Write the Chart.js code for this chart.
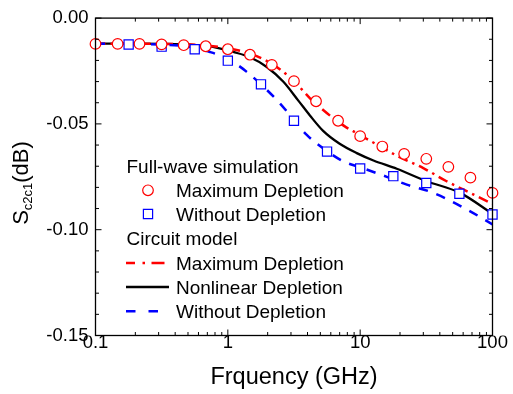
<!DOCTYPE html>
<html><head><meta charset="utf-8">
<script src="https://cdn.jsdelivr.net/npm/chart.js@4"></script>
<style>html,body{margin:0;padding:0;background:#fff}#wrap{width:513px;height:394px}</style>
</head><body><div id="wrap"><canvas id="c" width="513" height="394"></canvas></div>
<script>
// Full-wave simulation (markers)
const fwFreqMax = [0.1, 0.147, 0.215, 0.316, 0.464, 0.681, 1, 1.47, 2.15, 3.16, 4.64, 6.81, 10, 14.7, 21.5, 31.6, 46.4, 68.1, 100];
const fwMaxDepletion = [-0.0122, -0.0122, -0.0122, -0.0124, -0.0128, -0.0133, -0.0147, -0.0173, -0.0221, -0.0298, -0.0393, -0.0485, -0.0558, -0.0607, -0.0642, -0.0665, -0.0703, -0.0754, -0.0826];
const fwFreqWithout = [0.178, 0.316, 0.562, 1, 1.78, 3.16, 5.62, 10, 17.8, 31.6, 56.2, 100];
const fwWithoutDepletion = [-0.0125, -0.0135, -0.0147, -0.0201, -0.0313, -0.0485, -0.0631, -0.0711, -0.0747, -0.0779, -0.0830, -0.0928];
// Circuit model (lines)
const cmFreqMax = [0.1, 0.3, 0.6, 1.0, 1.47, 2.0, 2.6, 3.3, 4.18, 5.2, 6.27, 7.8, 9.43, 13.4, 18.9, 30, 45, 72, 100];
const cmMaxDepletion = [-0.0121, -0.0122, -0.0127, -0.0143, -0.0168, -0.0205, -0.0252, -0.0310, -0.0379, -0.0432, -0.0473, -0.0515, -0.0544, -0.0598, -0.0650, -0.0709, -0.0771, -0.0834, -0.0878];
const cmFreqNonlin = [0.1, 0.2, 0.4, 0.617, 0.8, 1.1, 1.47, 1.97, 2.63, 3.41, 4.17, 5.25, 7.0, 9.43, 12.6, 18.9, 31.9, 56.9, 100];
const cmNonlinear = [-0.0121, -0.0121, -0.0123, -0.0129, -0.0138, -0.0160, -0.0185, -0.0231, -0.0301, -0.0390, -0.0460, -0.0533, -0.0594, -0.0638, -0.0673, -0.0712, -0.0771, -0.0826, -0.0925];
const cmFreqWithout = [0.1, 0.3, 0.5, 0.733, 1.0, 1.39, 2.41, 3.95, 5.6, 7.47, 10, 15.9, 22.5, 35.7, 63.9, 100];
const cmWithout = [-0.0121, -0.0125, -0.0134, -0.0160, -0.0193, -0.0254, -0.0395, -0.0552, -0.0628, -0.0677, -0.0705, -0.0750, -0.0787, -0.0826, -0.0904, -0.0975];

const xTickValues = [0.1, 1, 10, 100];
const xTickLabels = ['0.1', '1', '10', '100'];
const yTickValues = [0, -0.05, -0.10, -0.15];
const yTickLabels = ['0.00', '-0.05', '-0.10', '-0.15'];
const xTitle = 'Frquency (GHz)';
const yTitleMain = 'S', yTitleSub = 'c2c1', yTitleUnit = '(dB)';
const legendGroup1 = 'Full-wave simulation';
const legendGroup2 = 'Circuit model';
const legendItems = ['Maximum Depletion', 'Without Depletion', 'Maximum Depletion', 'Nonlinear Depletion', 'Without Depletion'];

const FONT = '"Liberation Sans", Arial, sans-serif';
const RED = '#ff0000', BLUE = '#0000ff', BLACK = '#000000';
const zip = (xs, ys) => xs.map((x, i) => ({x, y: ys[i]}));

const decor = {
  id: 'decor',
  afterDatasetsDraw(chart) {
    const ctx = chart.ctx, a = chart.chartArea;
    const xs = chart.scales.x, ys = chart.scales.y;
    ctx.save();
    ctx.strokeStyle = '#000';
    ctx.lineWidth = 1.3;
    ctx.strokeRect(a.left, a.top, a.right - a.left, a.bottom - a.top);
    // x ticks (inward, bottom and top)
    ctx.lineWidth = 1;
    for (let d = -1; d <= 1; d++) {
      for (let m = 1; m <= 9; m++) {
        const v = m * Math.pow(10, d);
        const px = xs.getPixelForValue(v);
        const len = m === 1 ? 6 : 3.5;
        ctx.beginPath();
        ctx.moveTo(px, a.bottom); ctx.lineTo(px, a.bottom - len);
        ctx.moveTo(px, a.top); ctx.lineTo(px, a.top + len);
        ctx.stroke();
      }
    }
    // y ticks every 0.01
    for (let k = 0; k <= 15; k++) {
      const py = ys.getPixelForValue(-k / 100);
      const len = k % 5 === 0 ? 6 : 3.5;
      ctx.beginPath();
      ctx.moveTo(a.left, py); ctx.lineTo(a.left + len, py);
      ctx.moveTo(a.right, py); ctx.lineTo(a.right - len, py);
      ctx.stroke();
    }
    // x title
    ctx.fillStyle = '#000';
    ctx.font = '23.5px ' + FONT;
    ctx.textAlign = 'center';
    ctx.textBaseline = 'alphabetic';
    ctx.fillText(xTitle, (a.left + a.right) / 2, 383.5);
    // y title with subscript (rotated)
    ctx.save();
    ctx.translate(28, 183);
    ctx.rotate(-Math.PI / 2);
    ctx.textAlign = 'left';
    const fMain = '22px ' + FONT, fSub = '13px ' + FONT;
    ctx.font = fMain; const w1 = ctx.measureText(yTitleMain).width;
    const w3 = ctx.measureText(yTitleUnit).width;
    ctx.font = fSub; const w2 = ctx.measureText(yTitleSub).width;
    let x0 = -(w1 + w2 + w3) / 2;
    ctx.font = fMain; ctx.fillText(yTitleMain, x0, 0);
    ctx.font = fSub; ctx.fillText(yTitleSub, x0 + w1, 4);
    ctx.font = fMain; ctx.fillText(yTitleUnit, x0 + w1 + w2, 0);
    ctx.restore();
    // legend
    ctx.font = '19px ' + FONT;
    ctx.textAlign = 'left';
    const tx = 176, gx = 126.5, mx = 148, l0 = 126, l1 = 169;
    const rows = [173.3, 197, 220.7, 245.3, 269.7, 293.7, 318];
    ctx.fillText(legendGroup1, gx, rows[0]);
    ctx.fillText(legendItems[0], tx, rows[1]);
    ctx.fillText(legendItems[1], tx, rows[2]);
    ctx.fillText(legendGroup2, gx, rows[3]);
    ctx.fillText(legendItems[2], tx, rows[4]);
    ctx.fillText(legendItems[3], tx, rows[5]);
    ctx.fillText(legendItems[4], tx, rows[6]);
    const cy = r => r - 6.7;
    // markers
    ctx.lineWidth = 1.2;
    ctx.strokeStyle = RED; ctx.fillStyle = '#fff';
    ctx.beginPath(); ctx.arc(mx, cy(rows[1]), 5.3, 0, Math.PI * 2); ctx.fill(); ctx.stroke();
    ctx.strokeStyle = BLUE;
    ctx.beginPath(); ctx.rect(mx - 4.6, cy(rows[2]) - 4.6, 9.2, 9.2); ctx.fill(); ctx.stroke();
    // line samples
    ctx.lineWidth = 2.5;
    ctx.strokeStyle = RED; ctx.setLineDash([9, 7.5, 2.5, 6.5, 13, 20]);
    ctx.beginPath(); ctx.moveTo(l0, cy(rows[4])); ctx.lineTo(165, cy(rows[4])); ctx.stroke();
    ctx.strokeStyle = BLACK; ctx.setLineDash([]); ctx.lineWidth = 2.3;
    ctx.beginPath(); ctx.moveTo(l0, cy(rows[5])); ctx.lineTo(l1, cy(rows[5])); ctx.stroke();
    ctx.strokeStyle = BLUE; ctx.setLineDash([9.5, 13]); ctx.lineWidth = 2.5;
    ctx.beginPath(); ctx.moveTo(l0, cy(rows[6])); ctx.lineTo(l1, cy(rows[6])); ctx.stroke();
    ctx.restore();
  }
};

new Chart(document.getElementById('c'), {
  type: 'scatter',
  data: {
    datasets: [
      {label: 'FW Maximum Depletion', data: zip(fwFreqMax, fwMaxDepletion), pointStyle: 'circle', pointRadius: 5.3,
       borderColor: RED, pointBorderColor: RED, pointBackgroundColor: '#fff', pointBorderWidth: 1.2, showLine: false, order: 0, clip: false},
      {label: 'FW Without Depletion', data: zip(fwFreqWithout, fwWithoutDepletion), pointStyle: 'rect', pointRadius: 6.5,
       borderColor: BLUE, pointBorderColor: BLUE, pointBackgroundColor: '#fff', pointBorderWidth: 1.2, showLine: false, order: 1, clip: false},
      {label: 'CM Maximum Depletion', data: zip(cmFreqMax, cmMaxDepletion), showLine: true, pointRadius: 0,
       borderColor: RED, borderWidth: 2.5, borderDash: [10, 5, 2.5, 5], cubicInterpolationMode: 'monotone', order: 3},
      {label: 'CM Nonlinear Depletion', data: zip(cmFreqNonlin, cmNonlinear), showLine: true, pointRadius: 0,
       borderColor: BLACK, borderWidth: 2.3, cubicInterpolationMode: 'monotone', order: 4},
      {label: 'CM Without Depletion', data: zip(cmFreqWithout, cmWithout), showLine: true, pointRadius: 0,
       borderColor: BLUE, borderWidth: 2.5, borderDash: [9.5, 9], cubicInterpolationMode: 'monotone', order: 2}
    ]
  },
  options: {
    responsive: false, animation: false, devicePixelRatio: 1,
    layout: {padding: {left: 0, top: 16, right: 20.5, bottom: 0}},
    plugins: {legend: {display: false}, tooltip: {enabled: false}},
    scales: {
      x: {
        type: 'logarithmic', min: 0.1, max: 100,
        afterBuildTicks: s => { s.ticks = xTickValues.map(v => ({value: v})); },
        afterFit: s => { s.height = 58.5; },
        grid: {display: false, drawTicks: false}, border: {display: false},
        ticks: {autoSkip: false, maxRotation: 0, color: '#000', padding: -2,
                font: {family: FONT, size: 18.5, lineHeight: 1},
                callback: (v, i) => xTickLabels[i]}
      },
      y: {
        type: 'linear', min: -0.15, max: 0,
        afterBuildTicks: s => { s.ticks = yTickValues.map(v => ({value: v})); },
        afterFit: s => { s.width = 95.5; },
        grid: {display: false, drawTicks: false}, border: {display: false},
        ticks: {color: '#000', padding: 7, font: {family: FONT, size: 18.5},
                callback: (v, i) => yTickLabels[i]}
      }
    }
  },
  plugins: [decor]
});
</script></body></html>
